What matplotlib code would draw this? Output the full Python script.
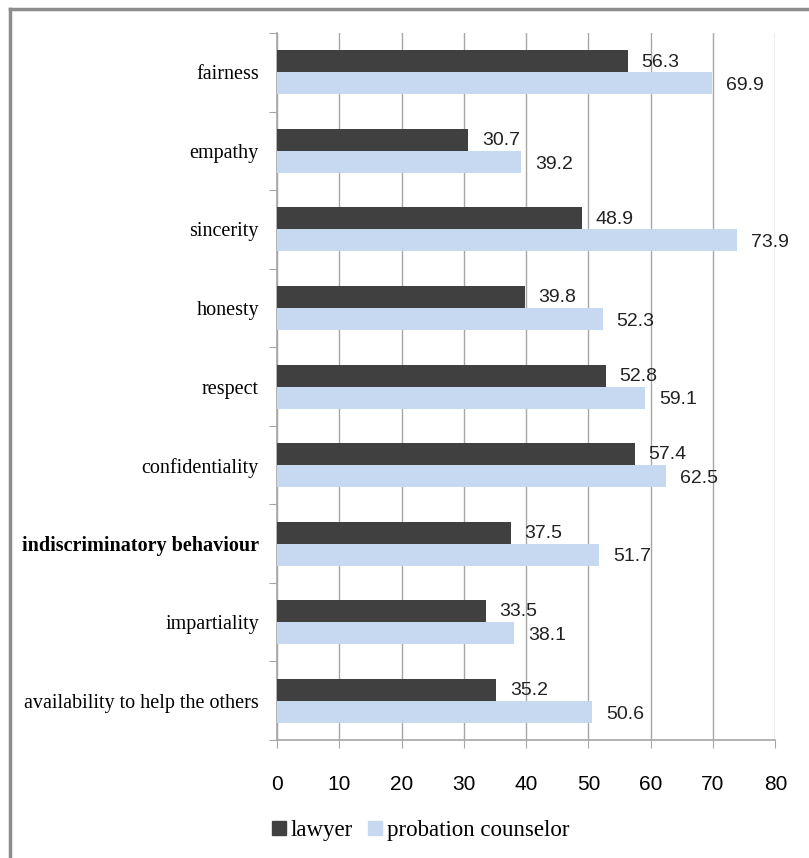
import numpy as np
from matplotlib import pyplot as plt
from matplotlib.lines import Line2D

categories = ["fairness", "empathy", "sincerity", "honesty", "respect",
              "confidentiality", "indiscriminatory behaviour", "impartiality",
              "availability to help the others"]
lawyer = [56.3, 30.7, 48.9, 39.8, 52.8, 57.4, 37.5, 33.5, 35.2]
counselor = [69.9, 39.2, 73.9, 52.3, 59.1, 62.5, 51.7, 38.1, 50.6]
xticks = [0, 10, 20, 30, 40, 50, 60, 70, 80]

dark = '#404040'
light = '#c6d9f0'
grey = '#a6a6a6'

fig = plt.figure(figsize=(8.09, 8.58), dpi=100)
ax = fig.add_axes([0.3424, 0.1375, 0.616, 0.824])

y = np.arange(len(categories))
h = 0.28
ax.barh(y - h / 2, lawyer, height=h, color=dark, label='lawyer', zorder=3)
ax.barh(y + h / 2, counselor, height=h, color=light, label='probation counselor', zorder=3)

for i in range(len(categories)):
    ax.text(lawyer[i] + 2.2, y[i] - h / 2 + 0.01, f"{lawyer[i]:.1f}", va='center', ha='left',
            fontsize=14, family='Liberation Sans', color='#222222', zorder=4)
    ax.text(counselor[i] + 2.2, y[i] + h / 2 + 0.03, f"{counselor[i]:.1f}", va='center', ha='left',
            fontsize=14, family='Liberation Sans', color='#222222', zorder=4)

ax.set_xlim(0, 80)
ax.set_ylim(len(categories) - 0.5, -0.5)
ax.set_xticks(xticks)
ax.set_xticklabels([str(t) for t in xticks], family='Liberation Sans', fontsize=15)
ax.xaxis.grid(True, color=grey, linewidth=1.0, zorder=0)

ax.set_yticks(np.arange(len(categories) + 1) - 0.5)
ax.set_yticklabels([])
ax.set_yticks(y, minor=True)
ax.set_yticklabels(categories, minor=True, family='Liberation Serif', fontsize=14.5)
for lab in ax.get_yticklabels(minor=True):
    if lab.get_text() == "indiscriminatory behaviour":
        lab.set_fontweight('bold')
ax.tick_params(axis='y', which='minor', length=0, pad=13)
ax.tick_params(axis='y', which='major', length=6, color=grey, direction='out')
ax.tick_params(axis='x', length=6, color=grey, direction='out', pad=19)

for s in ['top', 'right']:
    ax.spines[s].set_visible(False)
for s in ['left', 'bottom']:
    ax.spines[s].set_color(grey)
    ax.spines[s].set_linewidth(1.2)

handles = [Line2D([], [], marker='s', linestyle='', color=dark, markersize=10),
           Line2D([], [], marker='s', linestyle='', color=light, markersize=10)]
fig.legend(handles, ['lawyer', 'probation counselor'], loc='center', bbox_to_anchor=(0.517, 0.032),
           ncol=2, frameon=False, prop={'family': 'Liberation Serif', 'size': 16.5},
           handletextpad=0.0, columnspacing=0.5, handlelength=1.0)

# outer frame (only top and left visible in the picture)
fig.add_artist(Line2D([0.0124, 0.0124], [0, 0.9895], color='#8c8c8c', linewidth=2.5,
                      transform=fig.transFigure))
fig.add_artist(Line2D([0.0124, 1.0], [0.9895, 0.9895], color='#8c8c8c', linewidth=2.5,
                      transform=fig.transFigure))

plt.savefig("out.png", dpi=100)
plt.close()
